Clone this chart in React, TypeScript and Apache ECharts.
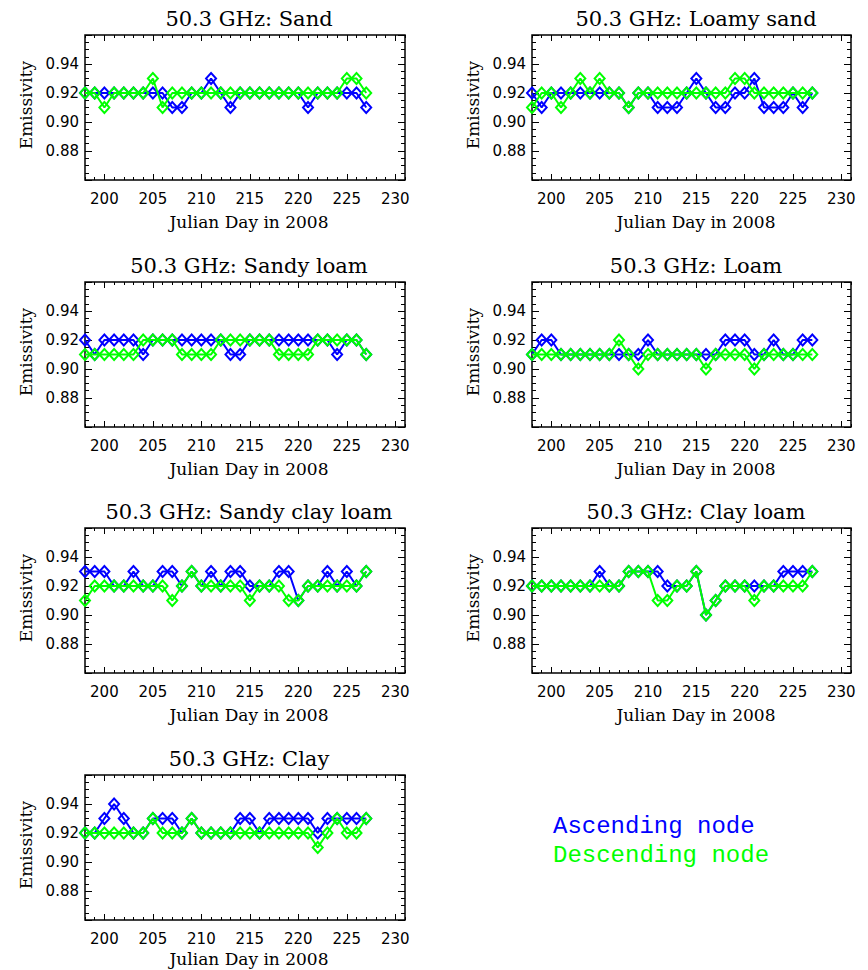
import React, { useEffect, useRef } from "react";
import * as echarts from "echarts";

// ---------------- data ----------------
const days = [198, 199, 200, 201, 202, 203, 204, 205, 206, 207, 208, 209, 210, 211, 212, 213, 214, 215, 216, 217, 218, 219, 220, 221, 222, 223, 224, 225, 226, 227];
const xTickValues = [200, 205, 210, 215, 220, 225, 230];
const yTickLabels = ["0.88", "0.90", "0.92", "0.94"];

const titles = [
  "50.3 GHz: Sand",
  "50.3 GHz: Loamy sand",
  "50.3 GHz: Sandy loam",
  "50.3 GHz: Loam",
  "50.3 GHz: Sandy clay loam",
  "50.3 GHz: Clay loam",
  "50.3 GHz: Clay",
];

const sandAsc = [0.92, 0.92, 0.92, 0.92, 0.92, 0.92, 0.92, 0.92, 0.92, 0.91, 0.91, 0.92, 0.92, 0.93, 0.92, 0.91, 0.92, 0.92, 0.92, 0.92, 0.92, 0.92, 0.92, 0.91, 0.92, 0.92, 0.92, 0.92, 0.92, 0.91];
const sandDesc = [0.92, 0.92, 0.91, 0.92, 0.92, 0.92, 0.92, 0.93, 0.91, 0.92, 0.92, 0.92, 0.92, 0.92, 0.92, 0.92, 0.92, 0.92, 0.92, 0.92, 0.92, 0.92, 0.92, 0.92, 0.92, 0.92, 0.92, 0.93, 0.93, 0.92];

const loamySandAsc = [0.92, 0.91, 0.92, 0.92, 0.92, 0.92, 0.92, 0.92, 0.92, 0.92, 0.91, 0.92, 0.92, 0.91, 0.91, 0.91, 0.92, 0.93, 0.92, 0.91, 0.91, 0.92, 0.92, 0.93, 0.91, 0.91, 0.91, 0.92, 0.91, 0.92];
const loamySandDesc = [0.91, 0.92, 0.92, 0.91, 0.92, 0.93, 0.92, 0.93, 0.92, 0.92, 0.91, 0.92, 0.92, 0.92, 0.92, 0.92, 0.92, 0.92, 0.92, 0.92, 0.92, 0.93, 0.93, 0.92, 0.92, 0.92, 0.92, 0.92, 0.92, 0.92];

const sandyLoamAsc = [0.92, 0.91, 0.92, 0.92, 0.92, 0.92, 0.91, 0.92, 0.92, 0.92, 0.92, 0.92, 0.92, 0.92, 0.92, 0.91, 0.91, 0.92, 0.92, 0.92, 0.92, 0.92, 0.92, 0.92, 0.92, 0.92, 0.91, 0.92, 0.92, 0.91];
const sandyLoamDesc = [0.91, 0.91, 0.91, 0.91, 0.91, 0.91, 0.92, 0.92, 0.92, 0.92, 0.91, 0.91, 0.91, 0.91, 0.92, 0.92, 0.92, 0.92, 0.92, 0.92, 0.91, 0.91, 0.91, 0.91, 0.92, 0.92, 0.92, 0.92, 0.92, 0.91];

const loamAsc = [0.91, 0.92, 0.92, 0.91, 0.91, 0.91, 0.91, 0.91, 0.91, 0.91, 0.91, 0.91, 0.92, 0.91, 0.91, 0.91, 0.91, 0.91, 0.91, 0.91, 0.92, 0.92, 0.92, 0.91, 0.91, 0.92, 0.91, 0.91, 0.92, 0.92];
const loamDesc = [0.91, 0.91, 0.91, 0.91, 0.91, 0.91, 0.91, 0.91, 0.91, 0.92, 0.91, 0.90, 0.91, 0.91, 0.91, 0.91, 0.91, 0.91, 0.90, 0.91, 0.91, 0.91, 0.91, 0.90, 0.91, 0.91, 0.91, 0.91, 0.91, 0.91];

const sandyClayLoamAsc = [0.93, 0.93, 0.93, 0.92, 0.92, 0.93, 0.92, 0.92, 0.93, 0.93, 0.92, 0.93, 0.92, 0.93, 0.92, 0.93, 0.93, 0.92, 0.92, 0.92, 0.93, 0.93, 0.91, 0.92, 0.92, 0.93, 0.92, 0.93, 0.92, 0.93];
const sandyClayLoamDesc = [0.91, 0.92, 0.92, 0.92, 0.92, 0.92, 0.92, 0.92, 0.92, 0.91, 0.92, 0.93, 0.92, 0.92, 0.92, 0.92, 0.92, 0.91, 0.92, 0.92, 0.92, 0.91, 0.91, 0.92, 0.92, 0.92, 0.92, 0.92, 0.92, 0.93];

const clayLoamAsc = [0.92, 0.92, 0.92, 0.92, 0.92, 0.92, 0.92, 0.93, 0.92, 0.92, 0.93, 0.93, 0.93, 0.93, 0.92, 0.92, 0.92, 0.93, 0.90, 0.91, 0.92, 0.92, 0.92, 0.92, 0.92, 0.92, 0.93, 0.93, 0.93, 0.93];
const clayLoamDesc = [0.92, 0.92, 0.92, 0.92, 0.92, 0.92, 0.92, 0.92, 0.92, 0.92, 0.93, 0.93, 0.93, 0.91, 0.91, 0.92, 0.92, 0.93, 0.90, 0.91, 0.92, 0.92, 0.92, 0.91, 0.92, 0.92, 0.92, 0.92, 0.92, 0.93];

const clayAsc = [0.92, 0.92, 0.93, 0.94, 0.93, 0.92, 0.92, 0.93, 0.93, 0.93, 0.92, 0.93, 0.92, 0.92, 0.92, 0.92, 0.93, 0.93, 0.92, 0.93, 0.93, 0.93, 0.93, 0.93, 0.92, 0.93, 0.93, 0.93, 0.93, 0.93];
const clayDesc = [0.92, 0.92, 0.92, 0.92, 0.92, 0.92, 0.92, 0.93, 0.92, 0.92, 0.92, 0.93, 0.92, 0.92, 0.92, 0.92, 0.92, 0.92, 0.92, 0.92, 0.92, 0.92, 0.92, 0.92, 0.91, 0.92, 0.93, 0.92, 0.92, 0.93];

const ascending = [sandAsc, loamySandAsc, sandyLoamAsc, loamAsc, sandyClayLoamAsc, clayLoamAsc, clayAsc];
const descending = [sandDesc, loamySandDesc, sandyLoamDesc, loamDesc, sandyClayLoamDesc, clayLoamDesc, clayDesc];

const legendLabels = ["Ascending node", "Descending node"];

// ---------------- layout ----------------
const BLUE = "#0000ff";
const GREEN = "#00ff00";
const colLeft = [85, 532];
const colWidth = [320, 319];
const colCenter = [249, 696];
const rowTop = [35, 282, 528, 775];
const nameY = [222, 469, 715, 959];
const PH = 145;
const SANS = "DejaVu Sans";
const SERIF = "DejaVu Serif";

function buildOption() {
  const grid: any[] = [];
  const xAxis: any[] = [];
  const yAxis: any[] = [];
  const series: any[] = [];
  const graphic: any[] = [];

  titles.forEach((title, i) => {
    const c = i % 2;
    const r = Math.floor(i / 2);
    grid.push({
      left: colLeft[c],
      top: rowTop[r],
      width: colWidth[c],
      height: PH,
      show: true,
      borderColor: "#000",
      borderWidth: 1.5,
      backgroundColor: "transparent",
      containLabel: false,
    });

    const xBase = {
      type: "value",
      gridIndex: i,
      min: 198,
      max: 231,
      splitLine: { show: false },
      axisLine: { show: false, onZero: false },
    };
    // bottom minor (with labels)
    xAxis.push({
      ...xBase,
      position: "bottom",
      interval: 1,
      axisTick: { show: true, inside: true, length: 3, lineStyle: { color: "#000", width: 1 } },
      axisLabel: {
        show: true,
        margin: 11,
        color: "#000",
        fontFamily: SANS,
        fontSize: 15,
        formatter: (v: number) => (xTickValues.indexOf(Math.round(v)) >= 0 ? String(Math.round(v)) : ""),
      },
    });
    // bottom major
    xAxis.push({
      ...xBase,
      position: "bottom",
      axisTick: { show: true, inside: true, length: 6, customValues: xTickValues, lineStyle: { color: "#000", width: 1 } },
      axisLabel: { show: false },
    });
    // top minor
    xAxis.push({
      ...xBase,
      position: "top",
      interval: 1,
      axisTick: { show: true, inside: true, length: 3, lineStyle: { color: "#000", width: 1 } },
      axisLabel: { show: false },
    });
    // top major
    xAxis.push({
      ...xBase,
      position: "top",
      axisTick: { show: true, inside: true, length: 6, customValues: xTickValues, lineStyle: { color: "#000", width: 1 } },
      axisLabel: { show: false },
    });

    const yBase = {
      type: "value",
      gridIndex: i,
      min: 0.86,
      max: 0.96,
      interval: 0.02,
      splitLine: { show: false },
      minorSplitLine: { show: false },
      axisLine: { show: false, onZero: false },
      axisTick: { show: true, inside: true, length: 7, lineStyle: { color: "#000", width: 1 } },
      minorTick: { show: true, splitNumber: 4, length: 4, lineStyle: { color: "#000", width: 1 } },
    };
    yAxis.push({
      ...yBase,
      position: "left",
      axisLabel: {
        show: true,
        margin: 6,
        color: "#000",
        fontFamily: SANS,
        fontSize: 15,
        formatter: (v: number) => {
          const s = v.toFixed(2);
          return yTickLabels.indexOf(s) >= 0 ? s : "";
        },
      },
    });
    yAxis.push({ ...yBase, position: "right", axisLabel: { show: false } });

    const mk = (vals: number[], color: string, name: string, z: number) => ({
      type: "line",
      name,
      xAxisIndex: i * 4,
      yAxisIndex: i * 2,
      data: days.map((d, j) => [d, vals[j]]),
      symbol: "diamond",
      symbolSize: [10, 11],
      showAllSymbol: true,
      clip: true,
      z,
      lineStyle: { color, width: 2 },
      itemStyle: { color: "rgba(255,255,255,0)", borderColor: color, borderWidth: 2 },
      emphasis: { disabled: true },
    });
    series.push(mk(ascending[i], BLUE, legendLabels[0], 2));
    series.push(mk(descending[i], GREEN, legendLabels[1], 3));

    graphic.push({
      type: "text",
      x: colCenter[c],
      y: rowTop[r] - 16,
      style: {
        text: title,
        fill: "#000",
        font: `21px "${SERIF}"`,
        align: "center",
        verticalAlign: "middle",
        textAlign: "center",
        textVerticalAlign: "middle",
      },
    });
    graphic.push({
      type: "text",
      x: colCenter[c],
      y: nameY[r],
      style: {
        text: "Julian Day in 2008",
        fill: "#000",
        font: `17px "${SERIF}"`,
        align: "center",
        verticalAlign: "middle",
        textAlign: "center",
        textVerticalAlign: "middle",
      },
    });
    graphic.push({
      type: "text",
      x: c === 0 ? 26 : 473,
      y: rowTop[r] + 70,
      rotation: Math.PI / 2,
      style: {
        text: "Emissivity",
        fill: "#000",
        font: `17px "${SERIF}"`,
        align: "center",
        verticalAlign: "middle",
        textAlign: "center",
        textVerticalAlign: "middle",
      },
    });
  });

  graphic.push({
    type: "text",
    x: 553,
    y: 826,
    style: {
      text: legendLabels[0],
      fill: BLUE,
      font: '24px "Liberation Mono"',
      align: "left",
      verticalAlign: "middle",
      textAlign: "left",
      textVerticalAlign: "middle",
    },
  });
  graphic.push({
    type: "text",
    x: 553,
    y: 855,
    style: {
      text: legendLabels[1],
      fill: GREEN,
      font: '24px "Liberation Mono"',
      align: "left",
      verticalAlign: "middle",
      textAlign: "left",
      textVerticalAlign: "middle",
    },
  });

  return {
    animation: false,
    backgroundColor: "#fff",
    grid,
    xAxis,
    yAxis,
    series,
    graphic,
  };
}

export default function App() {
  const ref = useRef<HTMLDivElement>(null);
  useEffect(() => {
    if (!ref.current) return;
    const chart = echarts.init(ref.current, undefined, { renderer: "svg" });
    chart.setOption(buildOption() as any);
    return () => chart.dispose();
  }, []);
  return (
    <div
      ref={ref}
      style={{ position: "fixed", left: 0, top: 0, width: 868, height: 970, background: "#fff" }}
    />
  );
}
